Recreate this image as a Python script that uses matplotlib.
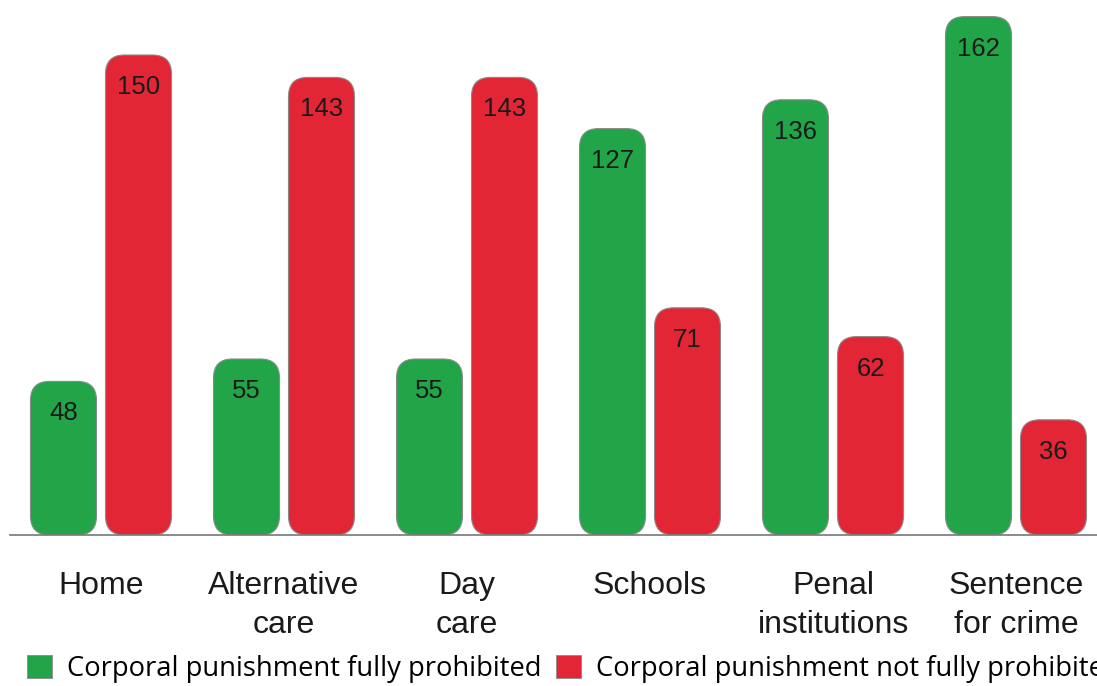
import numpy as np
import matplotlib
matplotlib.use('Agg')
import matplotlib.pyplot as plt
from matplotlib.patches import FancyBboxPatch, Patch

categories = ['Home', 'Alternative\ncare', 'Day\ncare', 'Schools', 'Penal\ninstitutions', 'Sentence\nfor crime']
prohibited = [48, 55, 55, 127, 136, 162]
not_prohibited = [150, 143, 143, 71, 62, 36]
legend_labels = ['Corporal punishment fully prohibited', 'Corporal punishment not fully prohibited']

GREEN = '#22a548'
RED = '#e32636'

W, H = 1097, 686
fig = plt.figure(figsize=(W / 100, H / 100), dpi=100)
# axes span the whole width, baseline at 535 px from top
ax = fig.add_axes([0, 151 / H, 1, 535 / H])
px_x = 183.0          # pixels per group
px_y = 3.2            # pixels per unit
ax.set_xlim(-101 / px_x, (W - 101) / px_x)
ax.set_ylim(0, 535 / px_y)
ax.axis('off')

x = np.arange(len(categories))
bw = 66 / px_x
off = 37.5 / px_x

b1 = ax.bar(x - off, prohibited, bw, color=GREEN)
b2 = ax.bar(x + off, not_prohibited, bw, color=RED)

# swap plain bars for rounded ones
r = 19 / px_x
aspect = px_x / px_y
for bars in (b1, b2):
    for b in bars:
        b.set_visible(False)
        p = FancyBboxPatch((b.get_x(), 0), b.get_width(), b.get_height(),
                           boxstyle='round,pad=0,rounding_size=%f' % r,
                           mutation_aspect=aspect,
                           facecolor=b.get_facecolor(), edgecolor='#8a8a8a', lw=0.8)
        ax.add_patch(p)
        ax.text(b.get_x() + b.get_width() / 2, b.get_height() - 32 / px_y,
                '%d' % b.get_height(), ha='center', va='center',
                fontsize=18.5, family='Liberation Sans', color='#1a1a1a')

ax.plot([10 / px_x - 101 / px_x, (W - 101) / px_x], [0, 0], color='#777777', lw=1.2,
        clip_on=False)

for xi, c in zip(x, categories):
    ax.text(xi, -36 / px_y, c, ha='center', va='top', fontsize=23,
            family='Liberation Sans', color='#1a1a1a', linespacing=1.38)

handles = [Patch(facecolor=GREEN, edgecolor='#8a8a8a', lw=0.6),
           Patch(facecolor=RED, edgecolor='#8a8a8a', lw=0.6)]
fig.legend(handles, legend_labels, loc='lower left', bbox_to_anchor=(19 / W, -5 / H),
           ncol=2, frameon=False, prop={'family': 'Open Sans', 'size': 19.7},
           handlelength=0.92, handleheight=0.92, handletextpad=0.55,
           columnspacing=0.52, borderaxespad=0, borderpad=0.3)

fig.savefig('out.png', dpi=100)
